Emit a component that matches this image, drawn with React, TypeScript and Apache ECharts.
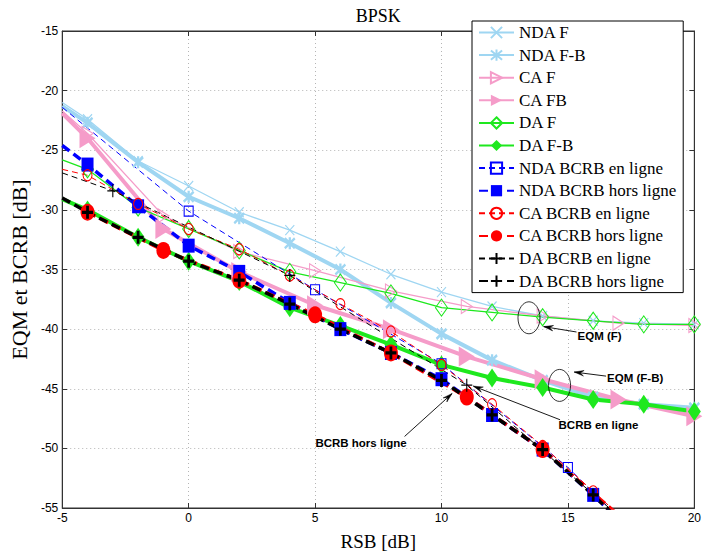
import React, { useEffect, useRef } from "react";
import * as echarts from "echarts";

// ---------- data ----------
const xMin = -5, xMax = 20, xStep = 5;
const yMin = -55, yMax = -15, yStep = 5;

const ndaF_x = [-5, -4, -2, 0, 2, 4, 6, 8, 10, 12, 14, 16, 18, 20];
const ndaF_y = [-21.0, -22.4, -25.9, -28.0, -30.2, -31.7, -33.5, -35.4, -36.9, -38.1, -38.9, -39.3, -39.5, -39.6];

const ndaFB_x = [-5, -4, -2, 0, 2, 4, 6, 8, 10, 12, 14, 16, 18, 20];
const ndaFB_y = [-21.3, -22.7, -26.0, -28.9, -30.7, -32.8, -35.0, -37.8, -40.4, -42.6, -44.3, -45.7, -46.3, -46.6];

const caF_x = [-5, -4, -1, 2, 5, 8, 11, 14, 17, 20];
const caF_y = [-21.7, -23.6, -30.5, -33.5, -35.1, -36.8, -38.1, -38.9, -39.5, -39.7];

const caFB_x = [-5, -4, -1, 2, 5, 8, 11, 14, 17, 20];
const caFB_y = [-21.9, -24.0, -31.6, -35.2, -38.0, -40.0, -42.3, -44.2, -45.9, -47.3];

const daF_x = [-5, -4, -2, 0, 2, 4, 6, 8, 10, 12, 14, 16, 18, 20];
const daF_y = [-25.8, -26.6, -29.8, -31.6, -33.4, -35.2, -36.1, -37.0, -38.2, -38.6, -39.0, -39.3, -39.6, -39.6];

const daFB_x = [-5, -4, -2, 0, 2, 4, 6, 8, 10, 12, 14, 16, 18, 20];
const daFB_y = [-29.1, -30.0, -32.3, -34.3, -36.0, -38.2, -39.7, -41.3, -43.0, -44.1, -44.9, -45.9, -46.3, -46.9];

const ndaOn_x = [-5, 0, 5, 10, 15, 20];
const ndaOn_y = [-21.4, -30.1, -36.7, -42.9, -51.6, -62.0];

const ndaOff_x = [-5, -4, -2, 0, 2, 4, 6, 8, 10, 12, 14, 16, 18, 20];
const ndaOff_y = [-24.6, -26.2, -29.7, -33.0, -35.2, -37.8, -40.0, -42.0, -44.2, -47.2, -50.1, -53.9, -58.0, -62.0];

const caOn_x = [-5, -4, -2, 0, 2, 4, 6, 8, 10, 12, 14, 16, 18, 20];
const caOn_y = [-26.6, -27.1, -29.5, -31.6, -33.3, -35.5, -37.9, -40.2, -43.0, -46.3, -49.8, -53.6, -57.5, -61.5];

const caOff_x = [-4, -1, 2, 5, 8, 11, 14, 17, 20];
const caOff_y = [-30.2, -33.4, -35.9, -38.8, -42.0, -45.7, -50.1, -55.6, -61.0];

const daOn_x = [-5, -3, 4, 11, 18];
const daOn_y = [-26.9, -28.4, -35.5, -44.7, -57.5];

const daOff_x = [-5, -4, -2, 0, 2, 4, 6, 8, 10, 12, 14, 16, 18, 20];
const daOff_y = [-29.0, -30.2, -32.3, -34.3, -35.9, -37.9, -40.0, -42.0, -44.3, -47.2, -50.1, -53.9, -58.0, -62.0];

const seriesNames = [
  "NDA F", "NDA F-B", "CA F", "CA FB", "DA F", "DA F-B",
  "NDA BCRB en ligne", "NDA BCRB hors ligne", "CA BCRB en ligne",
  "CA BCRB hors ligne", "DA BCRB en ligne", "DA BCRB hors ligne",
];

// annotations (data coordinates)
const annotEllipses = [
  { c: [13.46, -39.05] },
  { c: [14.67, -44.72] },
];
const annotArrows = [
  { from: [15.34, -40.24], to: [14.04, -39.79] },
  { from: [16.51, -43.94], to: [15.25, -43.6] },
  { from: [14.69, -47.6], to: [11.26, -44.78] },
  { from: [8.54, -49.0], to: [10.42, -45.4] },
];
const annotTexts = [
  { text: "EQM (F)", at: [15.38, -40.55], align: "left" },
  { text: "EQM (F-B)", at: [16.55, -44.1], align: "left" },
  { text: "BCRB en ligne", at: [14.63, -48.05], align: "left" },
  { text: "BCRB hors ligne", at: [6.82, -49.55], align: "center" },
];

// ---------- styles ----------
const LB = "#9fd6f2";
const PK = "#f59cc9";
const GR = "#1ee81e";
const BL = "#0000ff";
const RD = "#ff0000";
const BK = "#000000";

const P_X = "path://M0 0L10 10M0 10L10 0";
const P_AST = "path://M0 0L10 10M0 10L10 0M5 -1L5 11";
const P_PLUS = "path://M5 0L5 10M0 5L10 5";
const P_TRI = "path://M0 0L10 5L0 10Z";

type Spec = {
  x: number[]; y: number[]; color: string; width: number; dash?: number[];
  symbol: string; size: number[]; mode: "fill" | "hollow" | "stroke"; sw?: number;
};

const specs: Spec[] = [
  { x: ndaF_x, y: ndaF_y, color: LB, width: 1.3, symbol: P_X, size: [9, 10], mode: "stroke", sw: 1.2 },
  { x: ndaFB_x, y: ndaFB_y, color: LB, width: 4, symbol: P_AST, size: [10, 12], mode: "stroke", sw: 2.5 },
  { x: caF_x, y: caF_y, color: PK, width: 1.3, symbol: P_TRI, size: [11, 14], mode: "hollow" },
  { x: caFB_x, y: caFB_y, color: PK, width: 4, symbol: P_TRI, size: [16, 20], mode: "fill" },
  { x: daF_x, y: daF_y, color: GR, width: 1.3, symbol: "diamond", size: [12, 17], mode: "hollow" },
  { x: daFB_x, y: daFB_y, color: GR, width: 4, symbol: "diamond", size: [13, 19], mode: "fill" },
  { x: ndaOn_x, y: ndaOn_y, color: BL, width: 1, dash: [6, 4], symbol: "rect", size: [9, 10], mode: "hollow" },
  { x: ndaOff_x, y: ndaOff_y, color: BL, width: 3.5, dash: [9, 5], symbol: "rect", size: [12, 14], mode: "fill" },
  { x: caOn_x, y: caOn_y, color: RD, width: 1, dash: [6, 4], symbol: "circle", size: [9, 11], mode: "hollow" },
  { x: caOff_x, y: caOff_y, color: RD, width: 3.5, dash: [9, 5], symbol: "circle", size: [14, 17], mode: "fill" },
  { x: daOn_x, y: daOn_y, color: BK, width: 1, dash: [6, 4], symbol: P_PLUS, size: [11, 13], mode: "stroke", sw: 1.2 },
  { x: daOff_x, y: daOff_y, color: BK, width: 3.5, dash: [9, 5], symbol: P_PLUS, size: [11, 13], mode: "stroke", sw: 3 },
];

const SERIF = "'Liberation Serif', 'Times New Roman', serif";
const SANS = "'Liberation Sans', Arial, sans-serif";

export default function App() {
  const ref = useRef<HTMLDivElement>(null);
  useEffect(() => {
    if (!ref.current) return;
    const chart = echarts.init(ref.current, undefined, { renderer: "svg" });

    const series = specs.map((s, i) => {
      const itemStyle: any =
        s.mode === "fill"
          ? { color: s.color, borderWidth: 0 }
          : s.mode === "hollow"
          ? { color: "rgba(255,255,255,0)", borderColor: s.color, borderWidth: 1.1 }
          : { color: "rgba(255,255,255,0)", borderColor: s.color, borderWidth: s.sw };
      return {
        name: seriesNames[i],
        type: "line",
        color: s.color,
        data: s.x.map((xv, j) =>
          xv === xMin ? { value: [xv, s.y[j]], symbol: "none" } : [xv, s.y[j]]
        ),
        symbol: s.symbol,
        symbolSize: s.size,
        showSymbol: true,
        showAllSymbol: true,
        lineStyle: { color: s.color, width: s.width, type: s.dash ? s.dash : "solid" },
        itemStyle,
        clip: true,
        silent: true,
        emphasis: { disabled: true },
      };
    });

    const axisCommonX = {
      type: "value", min: xMin, max: xMax, interval: xStep,
    };
    const axisCommonY = {
      type: "value", min: yMin, max: yMax, interval: yStep,
    };

    const option: any = {
      animation: false,
      backgroundColor: "#ffffff",
      grid: {
        left: 58.5, right: 2.5, top: 31, bottom: 51,
        show: true, borderColor: "#333", borderWidth: 1, backgroundColor: "transparent",
      },
      legend: {
        show: true,
        data: seriesNames,
        orient: "vertical",
        left: 472,
        top: 21,
        padding: [3, 6, 3, 6],
        itemWidth: 35,
        itemHeight: 14,
        itemGap: 5.6,
        backgroundColor: "#ffffff",
        borderColor: "#000",
        borderWidth: 1,
        borderRadius: 0,
        selectedMode: false,
        textStyle: { fontFamily: SERIF, fontSize: 17, color: "#000", padding: [0, 0, 0, 0] },
      },
      xAxis: [
        {
          ...axisCommonX,
          position: "bottom",
          name: "RSB [dB]",
          nameLocation: "middle",
          nameGap: 24,
          nameTextStyle: { fontFamily: SERIF, fontSize: 19, color: "#000" },
          axisLine: { show: true, onZero: false, lineStyle: { color: "#333", width: 1 } },
          axisTick: { show: true, inside: true, length: 5, lineStyle: { color: "#333" } },
          axisLabel: { fontFamily: SANS, fontSize: 12, color: "#000", margin: 4 },
          splitLine: { show: true, lineStyle: { color: "#b5b5b5", type: [1, 3], width: 1 } },
        },
        {
          ...axisCommonX,
          position: "top",
          axisLine: { show: true, onZero: false, lineStyle: { color: "#333", width: 1 } },
          axisTick: { show: true, inside: true, length: 5, lineStyle: { color: "#333" } },
          axisLabel: { show: false },
          splitLine: { show: false },
        },
      ],
      yAxis: [
        {
          ...axisCommonY,
          position: "left",
          name: "EQM et BCRB [dB]",
          nameLocation: "middle",
          nameGap: 26,
          nameRotate: 90,
          nameTextStyle: { fontFamily: SERIF, fontSize: 22, color: "#000" },
          axisLine: { show: true, onZero: false, lineStyle: { color: "#333", width: 1 } },
          axisTick: { show: true, inside: true, length: 5, lineStyle: { color: "#333" } },
          axisLabel: { fontFamily: SANS, fontSize: 12, color: "#000", margin: 4 },
          splitLine: { show: true, lineStyle: { color: "#b5b5b5", type: [1, 3], width: 1 } },
        },
        {
          ...axisCommonY,
          position: "right",
          axisLine: { show: true, onZero: false, lineStyle: { color: "#333", width: 1 } },
          axisTick: { show: true, inside: true, length: 5, lineStyle: { color: "#333" } },
          axisLabel: { show: false },
          splitLine: { show: false },
        },
      ],
      series,
    };
    chart.setOption(option);

    const toPx = (p: number[]) => chart.convertToPixel({ gridIndex: 0 } as any, p) as number[];
    const graphics: any[] = [];

    const left = toPx([xMin, yMax]);
    const right = toPx([xMax, yMax]);
    graphics.push({
      type: "text",
      x: (left[0] + right[0]) / 2,
      y: 16,
      style: { text: "BPSK", fontFamily: SERIF, fontSize: 18, fill: "#000", align: "center", verticalAlign: "middle" },
      z: 10,
    });

    annotEllipses.forEach((e) => {
      const c = toPx(e.c);
      graphics.push({
        type: "ellipse",
        shape: { cx: c[0], cy: c[1], rx: 11, ry: 16 },
        style: { fill: "none", stroke: "#000", lineWidth: 0.8 },
        z: 10,
      });
    });

    annotArrows.forEach((a) => {
      const f = toPx(a.from);
      const t = toPx(a.to);
      const ang = Math.atan2(f[1] - t[1], f[0] - t[0]);
      const L = 10, h = 0.28;
      graphics.push({
        type: "line",
        shape: { x1: f[0], y1: f[1], x2: t[0], y2: t[1] },
        style: { stroke: "#000", lineWidth: 0.9 },
        z: 10,
      });
      graphics.push({
        type: "polygon",
        shape: {
          points: [
            [t[0] + L * Math.cos(ang + h), t[1] + L * Math.sin(ang + h)],
            [t[0], t[1]],
            [t[0] + L * Math.cos(ang - h), t[1] + L * Math.sin(ang - h)],
            [t[0] + 0.6 * L * Math.cos(ang), t[1] + 0.6 * L * Math.sin(ang)],
          ],
        },
        style: { fill: "#000", stroke: "#000", lineWidth: 0.5 },
        z: 10,
      });
    });

    annotTexts.forEach((tx) => {
      const p = toPx(tx.at);
      graphics.push({
        type: "text",
        x: p[0],
        y: p[1],
        style: {
          text: tx.text, fontFamily: SANS, fontSize: 11.5, fontWeight: "bold", fill: "#000",
          align: tx.align, verticalAlign: "middle",
        },
        z: 10,
      });
    });

    chart.setOption({ graphic: graphics });

    return () => chart.dispose();
  }, []);

  return (
    <div
      ref={ref}
      style={{ position: "fixed", left: 0, top: 0, width: 704, height: 559, background: "#fff" }}
    />
  );
}
